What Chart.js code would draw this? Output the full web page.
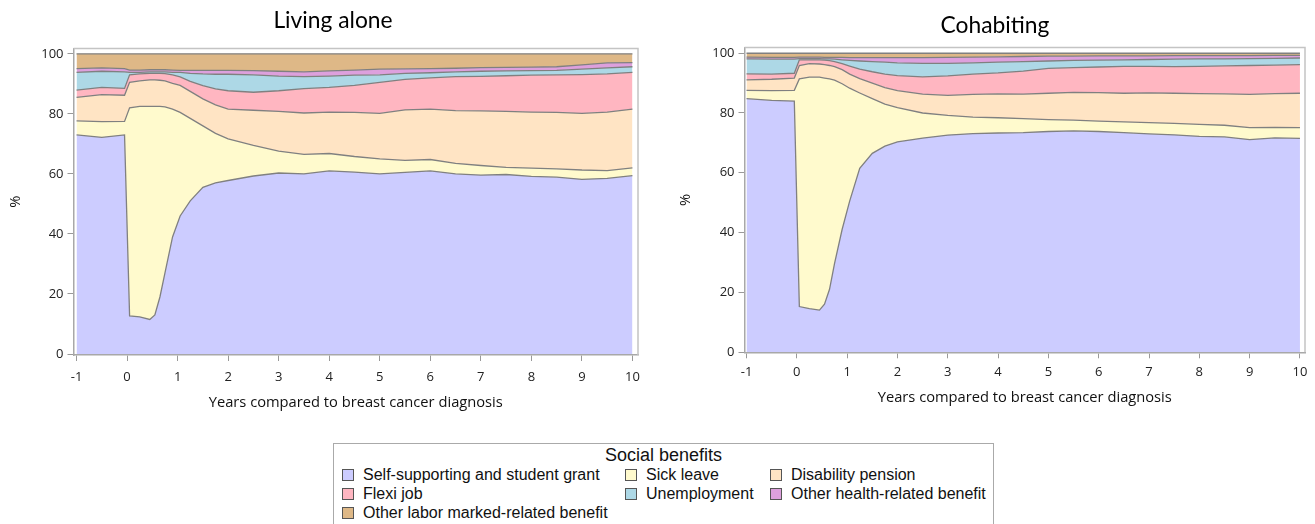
<!DOCTYPE html>
<html lang="en">
<head>
<meta charset="UTF-8">
<title>Social benefits after breast cancer</title>
<script src="https://cdn.jsdelivr.net/npm/chart.js"></script>
<style>
    body {
        margin: 0;
        background: #fff;
        width: 1315px;
        height: 524px;
        position: relative;
        overflow: hidden;
        font-family: 'Liberation Sans', Arial, sans-serif;
    }
    #boxAlone { position: absolute; left: 0; top: 0; width: 668px; height: 420px; }
    #boxCohab { position: absolute; left: 675px; top: 0; width: 640px; height: 420px; }
    #legend {
        position: absolute;
        left: 333px;
        top: 443px;
        width: 661px;
        height: 100px;
        border: 1px solid #aaa;
        box-sizing: border-box;
        color: #111;
    }
    #legend .title {
        position: absolute;
        left: 0; right: 0; top: 1px;
        text-align: center;
        font-size: 18px;
    }
    #legend .item {
        position: absolute;
        font-size: 16px;
        line-height: 18px;
        white-space: nowrap;
    }
    #legend .sw {
        display: inline-block;
        width: 10px;
        height: 10px;
        border: 1px solid #555;
        margin-right: 9px;
        vertical-align: -1px;
    }
</style>
</head>
<body>
<div id="boxAlone"><canvas id="chartAlone" width="668" height="420"></canvas></div>
<div id="boxCohab"><canvas id="chartCohab" width="640" height="420"></canvas></div>
<div id="legend"><div class="title">Social benefits</div></div>

<script>
// years relative to diagnosis (shared by both panels)
var years = [-1, -0.5, -0.05, 0.05, 0.25, 0.45, 0.55, 0.65, 0.75, 0.9, 1.05, 1.25, 1.5, 1.75, 2, 2.5, 3, 3.5, 4, 4.5, 5, 5.5, 6, 6.5, 7, 7.5, 8, 8.5, 9, 9.5, 10];

var labels = ['Self-supporting and student grant', 'Sick leave', 'Disability pension', 'Flexi job',
              'Unemployment', 'Other health-related benefit', 'Other labor marked-related benefit'];
var colors = ['#ccccff', '#fffacd', '#ffe4c4', '#ffb6c1', '#add8e6', '#dda0dd', '#deb887'];

var xTicks = [-1, 0, 1, 2, 3, 4, 5, 6, 7, 8, 9, 10];
var yTicks = [0, 20, 40, 60, 80, 100];

// Living alone (% in each benefit)
var aloneSelf   = [73, 72.2, 73, 12.7, 12.4, 11.5, 13, 19, 27, 39, 46, 51, 55.5, 57, 57.8, 59.3, 60.3, 60.0, 61.0, 60.6, 60.0, 60.5, 61.0, 60.0, 59.6, 59.8, 59.2, 58.9, 58.2, 58.5, 59.4];
var aloneSick   = [4.7, 5.2, 4.5, 69.3, 70.1, 71.0, 69.5, 63.5, 55.3, 42.6, 34.5, 27.5, 20.5, 16.5, 13.9, 10.2, 7.3, 6.5, 5.8, 5.2, 5.0, 4.0, 3.8, 3.5, 3.2, 2.4, 2.7, 2.8, 3.1, 2.6, 2.6];
var aloneDisab  = [7.8, 9.0, 8.7, 8.5, 8.5, 8.8, 8.8, 8.7, 8.7, 8.6, 9.0, 9.0, 9.0, 9.5, 9.9, 11.7, 13.2, 13.8, 13.8, 14.7, 15.2, 16.8, 16.8, 17.6, 18.2, 18.6, 18.7, 18.8, 18.9, 19.5, 19.6];
var aloneFlexi  = [2.4, 2.4, 2.3, 2.5, 2.3, 2.2, 2.2, 2.3, 2.4, 2.8, 2.8, 3.3, 4.4, 5.3, 6.1, 6.0, 6.9, 8.1, 8.2, 9.0, 10.3, 10.2, 10.4, 11.3, 11.5, 11.9, 12.3, 12.5, 12.9, 12.7, 12.2];
var aloneUnemp  = [5.9, 5.4, 5.5, 0.8, 0.5, 0.5, 0.5, 0.5, 0.6, 0.8, 1.5, 2.7, 3.9, 4.9, 5.5, 5.8, 4.9, 4.0, 3.8, 3.4, 2.5, 2.0, 1.7, 1.6, 1.7, 1.6, 1.5, 1.5, 1.8, 2.0, 1.9];
var aloneHealth = [1.3, 1.1, 1.1, 0.8, 0.8, 0.7, 0.7, 0.7, 0.7, 0.8, 0.7, 1.0, 1.2, 1.3, 1.3, 1.4, 1.6, 1.6, 1.7, 1.7, 1.9, 1.5, 1.4, 1.2, 1.2, 1.2, 1.2, 1.2, 1.4, 1.7, 1.4];
var aloneLabor  = [4.9, 4.7, 4.9, 5.4, 5.4, 5.3, 5.3, 5.3, 5.3, 5.4, 5.5, 5.5, 5.5, 5.5, 5.5, 5.6, 5.8, 6.0, 5.7, 5.4, 5.1, 5.0, 4.9, 4.8, 4.6, 4.5, 4.4, 4.3, 3.7, 3.0, 2.9];

// Cohabiting
var cohabSelf   = [84.8, 84.2, 84.0, 15.2, 14.5, 14.0, 16, 21, 29.7, 41, 50.5, 61.5, 66.5, 68.9, 70.3, 71.6, 72.6, 73.1, 73.3, 73.4, 73.8, 74.0, 73.8, 73.4, 73.0, 72.7, 72.2, 72.0, 71.1, 71.7, 71.5];
var cohabSick   = [2.8, 3.3, 3.6, 76.2, 77.5, 78.0, 75.7, 70.4, 61.3, 48.8, 37.8, 25.2, 18.3, 14.1, 11.5, 8.4, 6.6, 5.5, 5.1, 4.7, 4.0, 3.6, 3.5, 3.6, 3.8, 3.8, 4.0, 3.9, 4.0, 3.5, 3.6];
var cohabDisab  = [3.5, 3.8, 4.1, 4.5, 4.5, 4.4, 4.5, 4.5, 4.5, 4.7, 4.7, 4.8, 5.2, 5.5, 5.7, 6.3, 6.7, 7.6, 8.0, 8.2, 8.8, 9.3, 9.5, 9.6, 9.9, 10.1, 10.3, 10.5, 11.1, 11.3, 11.5];
var cohabFlexi  = [2.0, 1.7, 1.6, 1.9, 1.3, 1.4, 1.5, 1.6, 1.7, 2.0, 2.7, 3.2, 3.8, 4.5, 5.0, 5.8, 6.5, 6.8, 7.0, 7.7, 8.3, 8.3, 8.6, 9.0, 8.9, 8.9, 9.1, 9.4, 9.7, 9.5, 9.6];
var cohabUnemp  = [5.0, 5.0, 4.7, 0.4, 0.4, 0.4, 0.4, 0.6, 0.8, 1.3, 1.9, 2.7, 3.4, 4.0, 4.3, 4.5, 4.2, 3.8, 3.6, 3.2, 2.5, 2.4, 2.3, 2.2, 2.3, 2.5, 2.5, 2.3, 2.3, 2.3, 2.2];
var cohabHealth = [0.6, 0.6, 0.6, 0.5, 0.5, 0.5, 0.5, 0.5, 0.6, 0.8, 0.9, 1.1, 1.3, 1.5, 1.7, 1.9, 2.0, 1.9, 1.8, 1.7, 1.6, 1.4, 1.4, 1.3, 1.2, 1.2, 1.1, 1.1, 1.0, 1.0, 0.9];
var cohabLabor  = [1.3, 1.4, 1.4, 1.3, 1.3, 1.3, 1.4, 1.4, 1.4, 1.4, 1.5, 1.5, 1.5, 1.5, 1.5, 1.5, 1.4, 1.3, 1.2, 1.1, 1.0, 1.0, 0.9, 0.9, 0.9, 0.8, 0.8, 0.8, 0.8, 0.7, 0.7];

var tickFont = { family: "'Open Sans', sans-serif", size: 13 };
var axisTitleFont = { family: "'Open Sans', sans-serif", size: 14.7 };

// top and right edges of the wall
var framePlugin = {
    id: 'frame',
    afterDatasetsDraw: function(chart) {
        var a = chart.chartArea, ctx = chart.ctx;
        ctx.save();
        ctx.strokeStyle = '#c4c4c4';
        ctx.lineWidth = 1.5;
        ctx.beginPath();
        ctx.moveTo(a.left, a.top);
        ctx.lineTo(a.right, a.top);
        ctx.lineTo(a.right, a.bottom);
        ctx.stroke();
        ctx.restore();
    }
};

function buildDatasets(series) {
    return series.map(function(arr, k) {
        return {
            label: labels[k],
            data: arr.map(function(v, i) { return { x: years[i], y: v }; }),
            backgroundColor: colors[k],
            borderColor: '#808080',
            borderWidth: 1.3,
            pointRadius: 0,
            tension: 0,
            fill: k === 0 ? 'origin' : '-1'
        };
    });
}

function makeChart(canvasId, title, series, o) {
    var ctx = document.getElementById(canvasId).getContext('2d');
    return new Chart(ctx, {
        type: 'line',
        data: { datasets: buildDatasets(series) },
        plugins: [framePlugin],
        options: {
            responsive: false,
            animation: false,
            layout: { padding: { left: o.padLeft, right: o.padRight, top: 0, bottom: 0 } },
            plugins: {
                legend: { display: false },
                tooltip: { enabled: false },
                title: {
                    display: true,
                    text: title,
                    color: '#000',
                    font: { family: "Lato, 'Open Sans', sans-serif", size: 22.8, weight: 'normal' },
                    padding: { top: o.titleTop, bottom: o.titleBottom }
                }
            },
            scales: {
                x: {
                    type: 'linear',
                    min: o.xMin,
                    max: o.xMax,
                    afterBuildTicks: function(s) { s.ticks = xTicks.map(function(v) { return { value: v }; }); },
                    afterFit: function(s) { s.height = o.xHeight; },
                    grid: { drawOnChartArea: false, drawTicks: true, tickLength: 6, color: '#999' },
                    border: { display: true, color: '#a8a8a8', width: 1.5 },
                    ticks: { font: tickFont, color: '#222', padding: o.xTickPad, maxRotation: 0 },
                    title: {
                        display: true,
                        text: 'Years compared to breast cancer diagnosis',
                        color: '#111',
                        font: axisTitleFont,
                        padding: { top: 0, bottom: o.xTitlePad }
                    }
                },
                y: {
                    stacked: true,
                    min: o.yMin,
                    max: o.yMax,
                    afterBuildTicks: function(s) { s.ticks = yTicks.map(function(v) { return { value: v }; }); },
                    afterFit: function(s) { s.width = o.yWidth; },
                    grid: { drawOnChartArea: false, drawTicks: true, tickLength: 6, color: '#999' },
                    border: { display: true, color: '#a8a8a8', width: 1.5 },
                    ticks: { font: tickFont, color: '#222', padding: 4 },
                    title: {
                        display: true,
                        text: '%',
                        color: '#111',
                        font: axisTitleFont,
                        padding: { top: o.yTitlePad, bottom: 0 }
                    }
                }
            }
        }
    });
}

makeChart('chartAlone', 'Living alone',
    [aloneSelf, aloneSick, aloneDisab, aloneFlexi, aloneUnemp, aloneHealth, aloneLabor],
    { padLeft: 28, padRight: 30, titleTop: 7, titleBottom: 14.2, xMin: -1.06, xMax: 10.11, yMin: -0.33, yMax: 101.76,
      xHeight: 65, xTickPad: 8, xTitlePad: 8.6, yWidth: 45.5, yTitlePad: -21.4 });

makeChart('chartCohab', 'Cohabiting',
    [cohabSelf, cohabSick, cohabDisab, cohabFlexi, cohabUnemp, cohabHealth, cohabLabor],
    { padLeft: 10, padRight: 10, titleTop: 11.5, titleBottom: 8.7, xMin: -1.04, xMax: 10.1, yMin: -0.1, yMax: 101.9,
      xHeight: 67.7, xTickPad: 6.5, xTitlePad: 13.6, yWidth: 59.5, yTitlePad: -8.4 });

// legend under both panels
var legendPos = [
    [8, 22], [291, 22], [436, 22],
    [8, 41], [291, 41], [436, 41],
    [8, 60]
];
var legendBox = document.getElementById('legend');
labels.forEach(function(name, k) {
    var it = document.createElement('div');
    it.className = 'item';
    it.style.left = legendPos[k][0] + 'px';
    it.style.top = legendPos[k][1] + 'px';
    var sw = document.createElement('span');
    sw.className = 'sw';
    sw.style.background = colors[k];
    it.appendChild(sw);
    it.appendChild(document.createTextNode(name));
    legendBox.appendChild(it);
});
</script>
</body>
</html>
